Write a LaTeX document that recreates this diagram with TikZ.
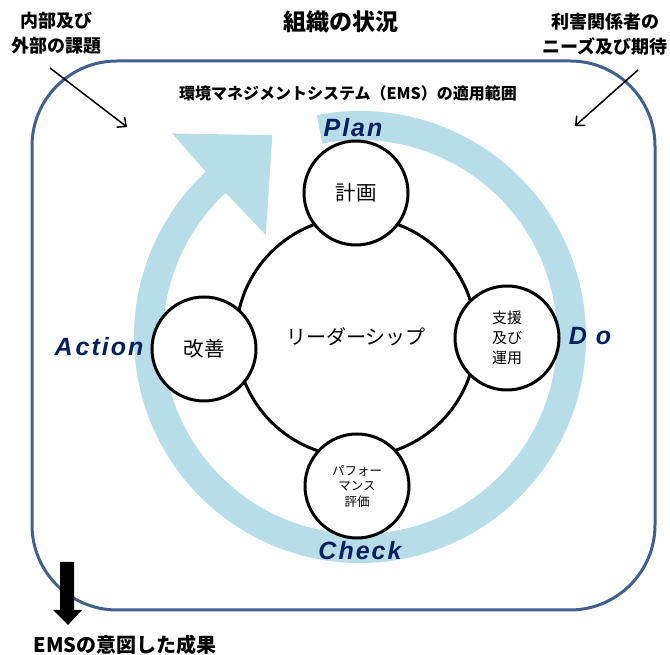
\documentclass[tikz,border=0pt]{standalone}
\usepackage{fontspec}
\setmainfont{Noto Sans CJK JP}
\newfontfamily\lat[LetterSpace=8]{Liberation Sans}
\usetikzlibrary{arrows.meta}
\definecolor{bandc}{HTML}{B7DDE8}
\definecolor{navyc}{HTML}{002060}
\definecolor{framec}{HTML}{41608F}
\begin{document}
\begin{tikzpicture}[x=1pt,y=1pt,
  circ/.style={circle, draw=black, line width=3pt, fill=white, minimum size=104pt, inner sep=0pt, align=center},
  pdca/.style={font=\lat\bfseries\itshape\fontsize{25}{25}\selectfont, text=navyc, inner sep=0pt},
  headtxt/.style={font=\bfseries\fontsize{18}{25.5}\selectfont, align=center, inner sep=0pt},
  thinarrow/.style={draw=black, line width=1.5pt, -{Straight Barb[length=7pt,width=13pt]}}
]
\useasboundingbox (0,0) rectangle (670,655);

% PDCA band with arrow head
\begin{scope}[shift={(360,318)}]
\fill[bandc] (101:226) arc[start angle=101,end angle=-227,radius=226]
  -- (132.7:277) -- (113.5:220) -- (132.7:139) -- (-227:197)
  arc[start angle=-227,end angle=101,radius=197] -- cycle;
\end{scope}

% outer frame
\draw[framec, line width=3pt, rounded corners=85pt] (32,45) rectangle (655,594);

% circles
\node[circ, minimum size=240pt, font=\fontsize{20}{20}\selectfont] (lead) at (356,318) {リーダーシップ};
\node[circ, font=\fontsize{20.5}{20.5}\selectfont] (plan) at (356,462) {計画};
\node[circ, font=\fontsize{15}{20}\selectfont] (do) at (507,317) {支援\\及び\\運用};
\node[circ, font=\fontsize{12.5}{15.5}\selectfont] (check) at (357,169) {パフォー\\マンス\\評価};
\node[circ, font=\fontsize{20.5}{20.5}\selectfont] (act) at (204,306) {改善};

% PDCA labels
\node[pdca] (lplan) at (353,527) {Plan};
\node[pdca] (ldo) at (590,319) {D o};
\node[pdca] (lcheck) at (360,104) {Check};
\node[pdca] (lact) at (99,308) {A\hspace{3pt}ction};

% texts
\node[font=\bfseries\fontsize{23}{23}\selectfont, inner sep=0pt] (title) at (341,633) {組織の状況};
\node[headtxt] (inner) at (57,622) {内部及び\\外部の課題};
\node[headtxt] (stake) at (605,621) {利害関係者の\\ニーズ及び期待};
\node[font=\bfseries\fontsize{16}{16}\selectfont, inner sep=0pt] (scope) at (348,562) {環境マネジメントシステム（EMS）の適用範囲};
\node[font=\bfseries\fontsize{20}{20}\selectfont, inner sep=0pt] (result) at (125,10) {EMSの意図した成果};

% thin arrows
\coordinate (a1s) at (50,587);
\coordinate (a1e) at (127,528);
\coordinate (a2s) at (638,585);
\coordinate (a2e) at (575,529);
\draw[thinarrow] (a1s) -- (a1e);
\draw[thinarrow] (a2s) -- (a2e);

% block arrow
\fill[black] (60,93) -- (74,93) -- (74,45) -- (82,45) -- (68,30) -- (53,45) -- (60,45) -- cycle;
\end{tikzpicture}
\end{document}
